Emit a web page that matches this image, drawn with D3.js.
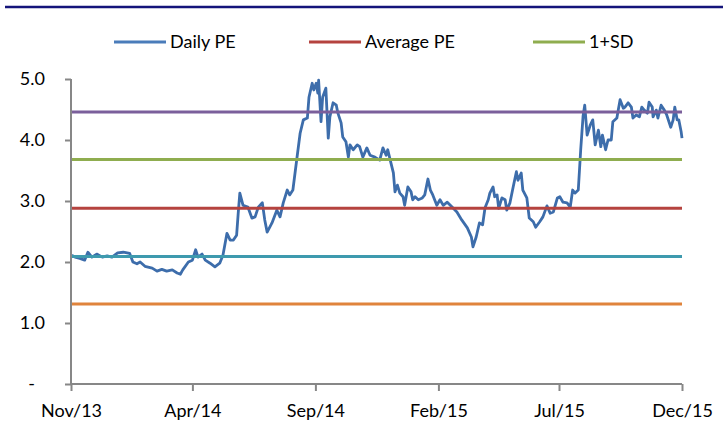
<!DOCTYPE html>
<html>
<head>
<meta charset="utf-8">
<script src="https://cdnjs.cloudflare.com/ajax/libs/d3/7.8.5/d3.min.js"></script>
<style>
  body { margin: 0; background: #fff; }
  text { font-family: Lato, 'Noto Sans', sans-serif; fill: #000; }
</style>
</head>
<body>
<div class="chartContainer"></div>
<script>
// daily PE
const peDates = [
  '2013-11-02','2013-11-06','2013-11-12','2013-11-18','2013-11-22','2013-11-27','2013-12-03','2013-12-10',
  '2013-12-16','2013-12-22','2013-12-29','2014-01-05','2014-01-13','2014-01-17','2014-01-22','2014-01-26',
  '2014-02-01','2014-02-10','2014-02-16','2014-02-22','2014-02-28','2014-03-07','2014-03-13','2014-03-17',
  '2014-03-20','2014-03-27','2014-04-01','2014-04-05','2014-04-08','2014-04-13','2014-04-17','2014-04-23',
  '2014-04-29','2014-05-05','2014-05-09','2014-05-14','2014-05-18','2014-05-22','2014-05-26','2014-05-28',
  '2014-05-30','2014-06-03','2014-06-09','2014-06-14','2014-06-18','2014-06-22','2014-06-27','2014-06-30',
  '2014-07-03','2014-07-09','2014-07-15','2014-07-19','2014-07-23','2014-07-28','2014-07-31','2014-08-04',
  '2014-08-09','2014-08-13','2014-08-17','2014-08-22','2014-08-24','2014-08-28','2014-08-30','2014-09-02',
  '2014-09-04','2014-09-05','2014-09-08','2014-09-10','2014-09-14','2014-09-17','2014-09-19','2014-09-23',
  '2014-09-27','2014-09-29','2014-10-03','2014-10-05','2014-10-09','2014-10-12','2014-10-14','2014-10-18',
  '2014-10-23','2014-10-26','2014-10-30','2014-11-04','2014-11-08','2014-11-14','2014-11-20','2014-11-24',
  '2014-11-28','2014-11-30','2014-12-04','2014-12-07','2014-12-09','2014-12-12','2014-12-15','2014-12-19',
  '2014-12-21','2014-12-25','2014-12-29','2014-12-31','2015-01-03','2015-01-07','2015-01-12','2015-01-15',
  '2015-01-19','2015-01-22','2015-01-25','2015-01-30','2015-02-03','2015-02-07','2015-02-12','2015-02-18',
  '2015-02-24','2015-03-02','2015-03-09','2015-03-14','2015-03-16','2015-03-20','2015-03-24','2015-03-28',
  '2015-03-31','2015-04-04','2015-04-06','2015-04-10','2015-04-12','2015-04-15','2015-04-17','2015-04-21',
  '2015-04-25','2015-04-27','2015-05-01','2015-05-05','2015-05-09','2015-05-11','2015-05-15','2015-05-17',
  '2015-05-22','2015-05-25','2015-05-30','2015-06-02','2015-06-07','2015-06-11','2015-06-16','2015-06-20',
  '2015-06-24','2015-06-29','2015-07-02','2015-07-06','2015-07-11','2015-07-15','2015-07-18','2015-07-21',
  '2015-07-25','2015-07-28','2015-07-31','2015-08-02','2015-08-05','2015-08-09','2015-08-12','2015-08-15',
  '2015-08-19','2015-08-22','2015-08-24','2015-08-28','2015-08-31','2015-09-04','2015-09-06','2015-09-11',
  '2015-09-12','2015-09-15','2015-09-19','2015-09-21','2015-09-25','2015-09-29','2015-10-01','2015-10-05',
  '2015-10-09','2015-10-12','2015-10-15','2015-10-19','2015-10-21','2015-10-25','2015-10-26','2015-10-30',
  '2015-11-01','2015-11-05','2015-11-09','2015-11-12','2015-11-17','2015-11-20','2015-11-22','2015-11-25',
  '2015-11-27','2015-11-30','2015-12-01'
];
const peValues = [
  2.11, 2.08, 2.06, 2.03, 2.16, 2.08, 2.13, 2.08,
  2.10, 2.08, 2.15, 2.16, 2.14, 2.00, 1.97, 2.00,
  1.93, 1.90, 1.85, 1.88, 1.85, 1.87, 1.82, 1.80,
  1.87, 2.00, 2.03, 2.20, 2.08, 2.13, 2.03, 1.98,
  1.92, 1.98, 2.11, 2.47, 2.36, 2.36, 2.44, 2.80,
  3.13, 2.93, 2.90, 2.72, 2.74, 2.90, 2.97, 2.69,
  2.49, 2.64, 2.85, 2.74, 2.97, 3.18, 3.10, 3.18,
  3.70, 4.11, 4.33, 4.36, 4.70, 4.93, 4.82, 4.93,
  4.77, 4.98, 4.30, 4.70, 4.85, 4.03, 4.38, 4.61,
  4.57, 4.44, 4.28, 4.05, 3.97, 3.72, 3.92, 3.84,
  3.92, 3.89, 3.72, 3.87, 3.75, 3.72, 3.67, 3.87,
  3.75, 3.84, 3.62, 3.46, 3.15, 3.26, 3.13, 3.07,
  2.93, 3.23, 3.15, 3.02, 3.07, 3.02, 3.05, 3.10,
  3.36, 3.18, 3.10, 2.93, 3.02, 2.93, 2.98, 2.90,
  2.82, 2.69, 2.56, 2.41, 2.25, 2.41, 2.64, 2.61,
  2.89, 3.02, 3.13, 3.23, 3.07, 3.10, 2.88, 3.05,
  3.02, 2.85, 2.97, 3.23, 3.48, 3.34, 3.46, 3.18,
  3.05, 2.72, 2.66, 2.57, 2.66, 2.74, 2.92, 2.80,
  2.82, 3.05, 3.07, 2.98, 2.97, 2.90, 3.18, 3.13,
  3.18, 3.84, 4.40, 4.57, 4.08, 4.25, 4.33, 3.92,
  4.16, 3.89, 4.08, 3.84, 4.00, 4.00, 4.30, 4.36,
  4.44, 4.66, 4.52, 4.54, 4.61, 4.54, 4.36, 4.41,
  4.38, 4.54, 4.49, 4.44, 4.62, 4.54, 4.38, 4.49,
  4.36, 4.57, 4.49, 4.41, 4.21, 4.33, 4.54, 4.33,
  4.33, 4.13, 4.03
];

// constant bands: average and +/- standard deviations
const levelNames = ['Average PE', '1+SD', '2+SD', '1-SD', '2-SD'];
const levelValues = [2.88, 3.68, 4.46, 2.09, 1.31];
const levelColors = ['#b5433f', '#8fad4f', '#7b5f9b', '#3e9aae', '#e0843c'];

const legendNames = ['Daily PE', 'Average PE', '1+SD'];
const legendColors = ['#4a7cba', '#b5433f', '#8fad4f'];

const yTicks = [0, 1, 2, 3, 4, 5];
const xTickLabels = ['2013-11-01', '2014-04-01', '2014-09-01', '2015-02-01', '2015-07-01', '2015-12-01'];

const w = 727;
const h = 428;
const plotLeft = 71, plotRight = 682, plotTop = 79, plotBottom = 384;
const seriesColor = '#3d6dab';
const axisColor = '#878787';

const parse = d3.timeParse('%Y-%m-%d');
const dataset = peDates.map((d, i) => ({ date: parse(d), value: peValues[i] }));
const xTicks = xTickLabels.map(parse);

const xScale = d3.scaleTime()
  .domain([xTicks[0], xTicks[xTicks.length - 1]])
  .range([plotLeft, plotRight]);

const yScale = d3.scaleLinear()
  .domain([0, 5])
  .range([plotBottom, plotTop]);

const svg = d3.select('.chartContainer')
  .append('svg')
  .attr('width', w)
  .attr('height', h);

// top rule
svg.append('line')
  .attr('x1', 5).attr('x2', 723)
  .attr('y1', 7).attr('y2', 7)
  .attr('stroke', '#14147a')
  .attr('stroke-width', 2.5);

const line = d3.line()
  .x((d) => xScale(d.date))
  .y((d) => yScale(d.value));

svg.append('path')
  .datum(dataset)
  .attr('fill', 'none')
  .attr('stroke', seriesColor)
  .attr('stroke-width', 2.8)
  .attr('stroke-linejoin', 'round')
  .attr('d', line);

svg.selectAll('.level')
  .data(levelValues)
  .enter()
  .append('path')
  .attr('class', 'level')
  .attr('fill', 'none')
  .attr('stroke', (d, i) => levelColors[i])
  .attr('stroke-width', 3)
  .attr('d', (v) => line(xScale.domain().map((dt) => ({ date: dt, value: v }))));

const xAxis = d3.axisBottom(xScale)
  .tickValues(xTicks)
  .tickSize(7)
  .tickFormat(d3.timeFormat('%b/%y'));

const yAxis = d3.axisLeft(yScale)
  .tickValues(yTicks)
  .tickSize(6)
  .tickFormat((d) => d === 0 ? '-' : d3.format('.1f')(d));

const gx = svg.append('g')
  .attr('id', 'x-axis')
  .attr('transform', 'translate(0,' + plotBottom + ')')
  .call(xAxis);

const gy = svg.append('g')
  .attr('id', 'y-axis')
  .attr('transform', 'translate(' + plotLeft + ',0)')
  .call(yAxis);

[gx, gy].forEach((g) => {
  g.select('.domain').attr('stroke', axisColor).attr('stroke-width', 2);
  g.selectAll('.tick line').attr('stroke', axisColor).attr('stroke-width', 2);
  g.selectAll('.tick text').style('font-size', '18px').attr('fill', '#000');
});

gx.select('.domain').attr('d', 'M' + plotLeft + ',0H' + plotRight);
gy.select('.domain').attr('d', 'M0,' + plotTop + 'V' + plotBottom);
gx.selectAll('.tick text').attr('y', 20);
gy.selectAll('.tick text').attr('x', -26)
  .attr('dx', (d) => d === 0 ? -10 : 0);

// legend
const legendX = [114, 309, 533];
const legend = svg.append('g').attr('id', 'legend')
  .selectAll('g')
  .data(legendNames)
  .enter()
  .append('g')
  .attr('transform', (d, i) => 'translate(' + legendX[i] + ',42)');

legend.append('line')
  .attr('x1', 0).attr('x2', 52)
  .attr('stroke', (d, i) => legendColors[i])
  .attr('stroke-width', 3);

legend.append('text')
  .attr('x', 56)
  .attr('dy', '.35em')
  .style('font-size', '18px')
  .text((d) => d);
</script>
</body>
</html>
